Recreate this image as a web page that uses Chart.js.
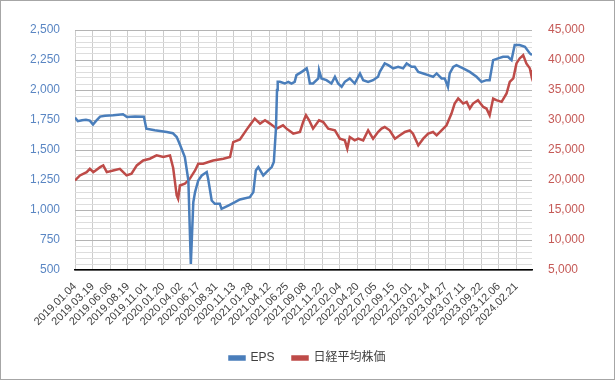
<!DOCTYPE html>
<html>
<head>
<meta charset="utf-8">
<script src="https://cdn.jsdelivr.net/npm/chart.js@4.4.1/dist/chart.umd.min.js"></script>
<style>
  html, body { margin: 0; padding: 0; background: #fff; }
  #wrap { width: 615px; height: 380px; position: relative; }
</style>
</head>
<body>
<div id="wrap"><canvas id="chart" width="615" height="380"></canvas></div>
<script>
// tick labels on the x axis, one every 50 trading days
const xLabels = ['2019.01.04', '2019.03.19', '2019.06.06', '2019.08.19', '2019.11.01', '2020.01.20',
    '2020.04.02', '2020.06.17', '2020.08.31', '2020.11.13', '2021.01.28', '2021.04.12', '2021.06.25',
    '2021.09.08', '2021.11.22', '2022.02.04', '2022.04.20', '2022.07.05', '2022.09.15', '2022.12.01',
    '2023.02.14', '2023.04.27', '2023.07.11', '2023.09.22', '2023.12.06', '2024.02.21'];
const lastIdx = 1294;

// EPS (left axis), trading-day index -> value
const epsIdx = [0, 8, 20, 31, 42, 51, 59, 71, 85, 108, 136, 147, 170, 195, 202, 226, 260, 277, 288, 297,
    311, 321, 325, 328, 332, 335, 340, 349, 359, 373, 377, 387, 396, 410, 415, 434, 453, 467, 495, 505,
    512, 519, 533, 547, 557, 563, 569, 572, 574, 580, 594, 604, 613, 622, 627, 642, 656, 660, 665, 674,
    689, 691, 698, 712, 726, 736, 745, 755, 764, 778, 792, 807, 816, 830, 844, 858, 863, 877, 887, 901,
    915, 929, 939, 953, 962, 972, 986, 1000, 1014, 1024, 1038, 1047, 1056, 1061, 1071, 1080, 1099, 1118,
    1137, 1151, 1165, 1174, 1184, 1198, 1212, 1226, 1236, 1245, 1259, 1274, 1288, 1294];
const epsVal = [1770, 1740, 1748, 1752, 1745, 1712, 1740, 1778, 1785, 1790, 1798, 1775, 1780, 1778, 1678,
    1665, 1650, 1640, 1608, 1545, 1441, 1246, 843, 550, 845, 1065, 1149, 1246, 1288, 1316, 1261, 1079,
    1052, 1052, 1010, 1037, 1065, 1088, 1107, 1149, 1330, 1358, 1288, 1330, 1358, 1400, 1678, 2000, 2068,
    2068, 2054, 2068, 2054, 2068, 2124, 2151, 2180, 2138, 2054, 2054, 2096, 2166, 2096, 2082, 2054, 2110,
    2054, 2026, 2068, 2096, 2054, 2138, 2082, 2068, 2082, 2110, 2151, 2221, 2207, 2180, 2193, 2180, 2221,
    2193, 2193, 2151, 2138, 2124, 2110, 2138, 2096, 2096, 2026, 2138, 2193, 2207, 2180, 2151, 2110, 2068,
    2082, 2082, 2249, 2263, 2277, 2277, 2249, 2375, 2375, 2360, 2305, 2291];

// 日経平均株価 (right axis)
const nikkeiIdx = [0, 14, 33, 42, 52, 71, 80, 90, 108, 127, 146, 160, 175, 193, 212, 231, 250, 269, 278,
    288, 292, 297, 311, 325, 340, 349, 363, 391, 420, 439, 448, 467, 486, 495, 509, 524, 538, 552, 571,
    589, 599, 618, 637, 646, 654, 663, 674, 691, 703, 717, 736, 750, 764, 771, 778, 792, 802, 816, 830,
    844, 858, 868, 877, 891, 906, 920, 934, 948, 957, 972, 986, 1000, 1014, 1024, 1038, 1052, 1066, 1075,
    1085, 1090, 1099, 1109, 1118, 1127, 1141, 1156, 1165, 1174, 1184, 1193, 1208, 1222, 1231, 1241, 1250,
    1259, 1269, 1278, 1288, 1292, 1294];
const nikkeiVal = [19920, 20760, 21310, 21870, 21310, 22140, 22430, 21310, 21590, 21870, 20760, 21040,
    22430, 23260, 23550, 24100, 23820, 24100, 22000, 17410, 16860, 19080, 19370, 20200, 21590, 22710,
    22710, 23260, 23550, 23820, 26320, 26750, 28400, 29120, 30240, 29400, 29950, 29400, 28560, 29120,
    28560, 27730, 28000, 29670, 30790, 29950, 28560, 29950, 29670, 28560, 28280, 26890, 26610, 25220,
    27160, 26610, 26890, 26610, 28280, 26890, 28000, 28560, 28830, 28280, 26890, 27450, 28000, 28280,
    27730, 25770, 26890, 27730, 28000, 27450, 28280, 29120, 31070, 32740, 33580, 33300, 32740, 33020,
    31910, 32740, 33300, 32180, 31910, 30790, 33580, 33300, 33020, 34420, 36360, 36920, 39430, 40260,
    40820, 39430, 38600, 37480, 38320];

const BLUE = '#4a7ebb';
const RED = '#be4b48';
const FONT = '"Liberation Sans", Arial, "Noto Sans CJK JP", sans-serif';

const frame = {
    id: 'frame',
    afterDraw(chart) {
        const c = chart.ctx;
        c.save();
        c.strokeStyle = '#a6a6a6';
        c.lineWidth = 1;
        c.strokeRect(0.5, 0.5, chart.width - 1, chart.height - 1);
        c.restore();
    }
};

new Chart(document.getElementById('chart'), {
    type: 'line',
    data: {
        datasets: [
            {
                label: 'EPS',
                data: epsIdx.map((x, i) => ({ x: x, y: epsVal[i] })),
                borderColor: BLUE, backgroundColor: BLUE,
                borderWidth: 2.5, pointRadius: 0, tension: 0, yAxisID: 'y'
            },
            {
                label: '日経平均株価',
                data: nikkeiIdx.map((x, i) => ({ x: x, y: nikkeiVal[i] })),
                borderColor: RED, backgroundColor: RED,
                borderWidth: 2.5, pointRadius: 0, tension: 0, yAxisID: 'y1'
            }
        ]
    },
    options: {
        responsive: false,
        animation: false,
        layout: { padding: { top: 30, left: 0, right: 0, bottom: 6 } },
        plugins: {
            tooltip: { enabled: false },
            legend: {
                position: 'bottom',
                labels: {
                    boxWidth: 15, boxHeight: 3, padding: 18,
                    color: '#404040', font: { family: FONT, size: 12 }
                }
            }
        },
        scales: {
            x: {
                type: 'linear', min: 0, max: lastIdx,
                afterBuildTicks: s => { s.ticks = xLabels.map((l, i) => ({ value: i * 50 })); },
                afterFit: s => { s.height = 64; },
                ticks: {
                    autoSkip: false, minRotation: 45, maxRotation: 45, padding: 10,
                    color: '#404040', font: { family: FONT, size: 11 },
                    callback: v => xLabels[Math.round(v / 50)]
                },
                grid: { color: '#cccccc', drawTicks: false },
                border: { color: '#000000', width: 1.5 }
            },
            y: {
                position: 'left', min: 500, max: 2500,
                afterFit: s => { s.width = 75; },
                ticks: {
                    stepSize: 50, autoSkip: false, padding: 15, color: '#5a86c3',
                    font: { family: FONT, size: 12 },
                    callback: v => (v % 250 === 0 ? v.toLocaleString('en-US') : '')
                },
                grid: {
                    drawTicks: false,
                    color: c => (c.tick && c.tick.value % 250 === 0 ? '#b4b4b4' : '#dddddd')
                },
                border: { display: false }
            },
            y1: {
                position: 'right', min: 5000, max: 45000,
                afterFit: s => { s.width = 83; },
                ticks: {
                    stepSize: 5000, padding: 16, color: '#c55a57',
                    font: { family: FONT, size: 12 },
                    callback: v => v.toLocaleString('en-US')
                },
                grid: { display: false, drawTicks: false },
                border: { display: false }
            }
        }
    },
    plugins: [frame]
});
</script>
</body>
</html>
